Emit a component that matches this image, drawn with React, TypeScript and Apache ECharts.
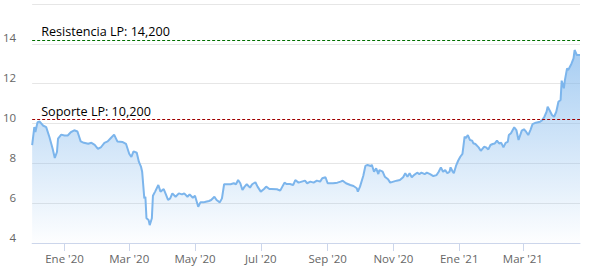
import React, { useEffect, useRef } from "react";
import * as echarts from "echarts";

const dates: string[] = [
  "2019-12-02","2019-12-04","2019-12-05","2019-12-07","2019-12-09","2019-12-12","2019-12-15","2019-12-18","2019-12-21","2019-12-23","2019-12-25","2019-12-26","2019-12-29",
  "2020-01-01","2020-01-04","2020-01-07","2020-01-10","2020-01-13","2020-01-16","2020-01-19","2020-01-23","2020-01-26","2020-01-29",
  "2020-02-01","2020-02-04","2020-02-07","2020-02-10","2020-02-13","2020-02-16","2020-02-19","2020-02-24","2020-02-27",
  "2020-03-01","2020-03-03","2020-03-05","2020-03-08","2020-03-10","2020-03-12","2020-03-13","2020-03-14","2020-03-15","2020-03-16","2020-03-17","2020-03-19","2020-03-20","2020-03-22","2020-03-23","2020-03-25","2020-03-28","2020-03-30",
  "2020-04-02","2020-04-04","2020-04-06","2020-04-08","2020-04-10","2020-04-13","2020-04-16","2020-04-19","2020-04-21","2020-04-24","2020-04-26","2020-04-29",
  "2020-05-01","2020-05-04","2020-05-06","2020-05-09","2020-05-11","2020-05-14","2020-05-16","2020-05-19","2020-05-21","2020-05-24","2020-05-26","2020-05-28","2020-05-31",
  "2020-06-03","2020-06-06","2020-06-08","2020-06-10","2020-06-12","2020-06-14","2020-06-16","2020-06-18","2020-06-21","2020-06-23","2020-06-26","2020-06-28",
  "2020-07-01","2020-07-04","2020-07-06","2020-07-09","2020-07-11","2020-07-16","2020-07-19","2020-07-21","2020-07-23","2020-07-25","2020-07-28","2020-07-31",
  "2020-08-02","2020-08-05","2020-08-08","2020-08-11","2020-08-13","2020-08-16","2020-08-19","2020-08-22","2020-08-25","2020-08-27","2020-08-30",
  "2020-09-01","2020-09-03","2020-09-06","2020-09-10","2020-09-13","2020-09-15","2020-09-18","2020-09-22","2020-09-25","2020-09-28","2020-09-29",
  "2020-10-01","2020-10-04","2020-10-06","2020-10-08","2020-10-11","2020-10-12","2020-10-14","2020-10-16","2020-10-18","2020-10-19","2020-10-22","2020-10-24","2020-10-27","2020-10-29",
  "2020-11-01","2020-11-04","2020-11-07","2020-11-10","2020-11-12","2020-11-14","2020-11-16","2020-11-18","2020-11-20","2020-11-23","2020-11-25","2020-11-27","2020-11-30",
  "2020-12-02","2020-12-05","2020-12-08","2020-12-11","2020-12-13","2020-12-15","2020-12-17","2020-12-19","2020-12-21","2020-12-23","2020-12-24","2020-12-26","2020-12-27","2020-12-29","2020-12-31",
  "2021-01-02","2021-01-04","2021-01-06","2021-01-07","2021-01-09","2021-01-11","2021-01-13","2021-01-14","2021-01-16","2021-01-19","2021-01-21","2021-01-24","2021-01-26","2021-01-28","2021-01-30",
  "2021-02-01","2021-02-03","2021-02-05","2021-02-07","2021-02-09","2021-02-11","2021-02-13","2021-02-15","2021-02-16","2021-02-18","2021-02-21","2021-02-23","2021-02-25","2021-02-28",
  "2021-03-02","2021-03-04","2021-03-06","2021-03-08","2021-03-10","2021-03-13","2021-03-17","2021-03-19","2021-03-21","2021-03-23","2021-03-24","2021-03-26","2021-03-28","2021-03-30",
  "2021-04-01","2021-04-03","2021-04-05","2021-04-06","2021-04-08","2021-04-09","2021-04-11","2021-04-12","2021-04-14","2021-04-15","2021-04-17","2021-04-18","2021-04-20","2021-04-23",
];

const prices: number[] = [
  8.92,9.82,9.57,10.07,10.1,9.9,9.82,9.32,8.73,8.27,8.57,9.24,9.44,
  9.4,9.4,9.57,9.66,9.6,9.1,9.03,8.98,9.03,8.93,
  8.73,8.82,9.03,9.1,9.27,9.44,9.1,9.07,8.98,
  8.48,8.32,8.6,8.53,8.07,7.82,7.58,6.91,6.24,6.32,5.24,5.15,4.9,5.24,6.37,6.58,6.91,6.58,
  6.71,6.44,6.16,6.24,6.49,6.32,6.49,6.44,6.49,6.32,6.44,6.27,
  6.37,5.82,6.04,6.04,6.07,6.11,6.16,6.32,6.16,6.04,6.24,6.95,6.95,
  6.95,7.0,6.95,7.16,7.0,6.66,6.83,6.95,6.78,6.95,7.05,6.83,
  6.58,6.71,6.83,6.71,6.71,6.7,6.63,6.83,7.03,6.96,6.96,6.91,
  7.16,7.03,7.08,7.13,7.0,7.08,7.03,7.13,7.08,7.25,7.3,
  7.0,7.0,7.0,7.03,7.08,7.13,7.0,6.91,6.86,6.75,6.58,
  6.83,7.36,7.87,7.92,7.87,7.92,7.58,7.75,7.46,7.66,7.58,7.33,7.2,7.03,
  7.08,7.13,7.16,7.3,7.5,7.33,7.5,7.3,7.41,7.53,7.46,7.53,7.46,
  7.53,7.46,7.36,7.41,7.58,7.8,7.58,7.66,7.5,7.58,7.8,7.58,7.5,7.87,8.13,
  8.33,8.47,9.34,9.26,9.42,9.17,9.14,9.01,8.97,8.8,8.63,8.83,8.8,8.7,8.92,
  8.97,9.0,9.14,9.0,9.03,8.8,9.03,9.08,9.42,9.51,9.81,9.67,9.17,9.64,
  9.71,9.59,9.42,9.67,9.97,10.04,10.09,10.17,10.34,10.59,10.84,10.64,10.43,10.34,
  10.59,11.09,11.18,12.15,11.77,12.18,12.77,12.68,12.89,12.99,13.27,13.69,13.44,13.44,
];

const xMin = "2019-12-02";
const xMax = "2021-04-23";
const tickDates: string[] = ["2020-01-01","2020-03-01","2020-05-01","2020-07-01","2020-09-01","2020-11-01","2021-01-01","2021-03-01"];
const monthNames: string[] = ["Ene","Feb","Mar","Abr","May","Jun","Jul","Ago","Sep","Oct","Nov","Dic"];

const yMin = 4;
const yMax = 16;
const yInterval = 2;

const resistencia = 14.2;
const soporte = 10.2;
const resistenciaLabel = "Resistencia LP: 14,200";
const soporteLabel = "Soporte LP: 10,200";

const FONT = "'Open Sans', 'DejaVu Sans', sans-serif";

function levelSeries(value: number, text: string, color: string) {
  return {
    type: "line",
    name: text,
    data: [],
    silent: true,
    markLine: {
      silent: true,
      symbol: "none",
      animation: false,
      lineStyle: { color, type: [3, 2], width: 1, opacity: 1 },
      label: {
        show: true,
        position: "insideStartTop",
        distance: [9, 2],
        color: "#000000",
        fontSize: 12.6,
        fontFamily: FONT,
        formatter: text,
      },
      emphasis: { disabled: true },
      data: [{ yAxis: value }],
    },
  };
}

export default function App() {
  const ref = useRef<HTMLDivElement>(null);
  useEffect(() => {
    if (!ref.current) return;
    const chart = echarts.init(ref.current, null, { renderer: "svg" });
    const toTs = (s: string) => {
      const [y, m, d] = s.split("-").map(Number);
      return new Date(y, m - 1, d).getTime();
    };
    const data = dates.map((d, i) => [toTs(d), prices[i]]);
    const ticks = tickDates.map(toTs);
    chart.setOption({
      animation: false,
      grid: { left: 29, right: 12, top: 4, bottom: 35, containLabel: false },
      xAxis: {
        type: "value",
        min: toTs(xMin),
        max: toTs(xMax),
        axisLine: { show: true, lineStyle: { color: "#ccd6eb", width: 1 } },
        axisTick: { show: true, length: 8, lineStyle: { color: "#ccd6eb" }, customValues: ticks },
        axisLabel: {
          customValues: ticks,
          color: "#666666",
          fontSize: 11.5,
          fontFamily: FONT,
          margin: 9,
          formatter: (v: number) => {
            const dt = new Date(v);
            return monthNames[dt.getMonth()] + " '" + String(dt.getFullYear()).slice(2);
          },
        },
        splitLine: { show: false },
      },
      yAxis: {
        type: "value",
        min: yMin,
        max: yMax,
        interval: yInterval,
        axisLine: { show: false },
        axisTick: { show: false },
        axisLabel: {
          color: "#666666",
          fontSize: 11.5,
          fontFamily: FONT,
          margin: 16,
          verticalAlign: "bottom",
          showMaxLabel: false,
        },
        splitLine: { show: true, lineStyle: { color: "#e6e6e6", width: 1 } },
      },
      series: [
        {
          type: "line",
          data,
          showSymbol: false,
          symbol: "none",
          lineStyle: { color: "#7cb5ec", width: 2 },
          areaStyle: {
            color: new echarts.graphic.LinearGradient(0, 0, 0, 1, [
              { offset: 0, color: "rgba(124,181,236,0.95)" },
              { offset: 1, color: "rgba(124,181,236,0.02)" },
            ]),
          },
        },
        levelSeries(resistencia, resistenciaLabel, "#007000"),
        levelSeries(soporte, soporteLabel, "#a00000"),
      ],
    });
    return () => chart.dispose();
  }, []);
  return <div ref={ref} style={{ width: 592, height: 278, position: "absolute", left: 0, top: 0 }} />;
}
